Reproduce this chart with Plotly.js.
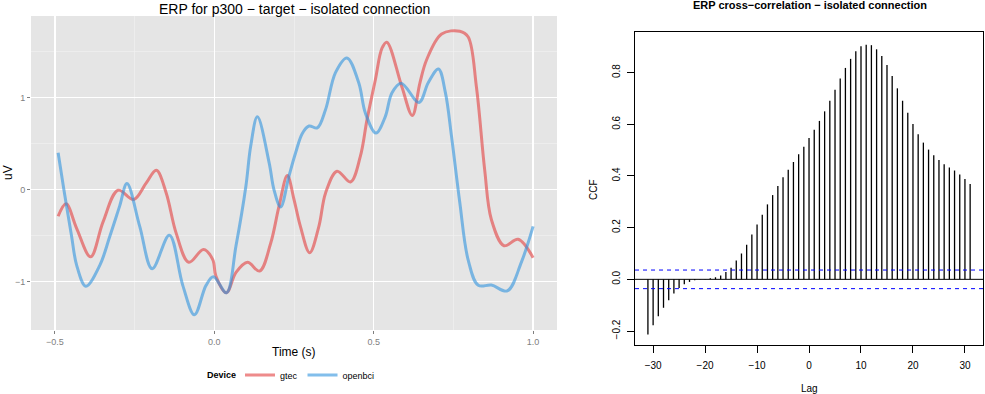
<!DOCTYPE html>
<html>
<head>
<meta charset="utf-8">
<script src="https://cdn.plot.ly/plotly-3.0.1.min.js"></script>
<style>
  body { margin: 0; background: #fff; }
  #chart { width: 985px; height: 394px; }
</style>
</head>
<body>
<div id="chart"></div>
<script>
// ERP traces (time in s, amplitude in uV)
var gtecTime = [-0.49, -0.465, -0.432, -0.388, -0.349, -0.302, -0.253, -0.214, -0.182, -0.151, -0.12, -0.08, -0.034,
	-0.005, 0.005, 0.038, 0.068, 0.104, 0.142, 0.177, 0.203, 0.229, 0.25, 0.27, 0.299, 0.328, 0.349, 0.385, 0.427,
	0.458, 0.479, 0.505, 0.526, 0.541, 0.588, 0.621, 0.645, 0.666, 0.713, 0.77, 0.796, 0.822, 0.848, 0.869, 0.909,
	0.953, 1.0];
var gtecValues = [-0.29, -0.155, -0.42, -0.73, -0.35, -0.007, -0.108, 0.07, 0.21, -0.036, -0.47, -0.79, -0.65,
	-0.76, -0.94, -1.12, -0.90, -0.79, -0.885, -0.58, -0.18, 0.152, -0.108, -0.40, -0.686, -0.40, -0.036, 0.20, 0.083,
	0.36, 0.76, 1.19, 1.535, 1.60, 1.12, 0.805, 1.16, 1.41, 1.69, 1.72, 1.66, 1.12, 0.217, -0.325, -0.61,
	-0.54, -0.74];

var openbciTime = [-0.49, -0.472, -0.448, -0.432, -0.403, -0.359, -0.328, -0.297, -0.274, -0.234, -0.195, -0.141,
	-0.099, -0.0625, -0.026, -0.003, 0.038, 0.068, 0.099, 0.114, 0.135, 0.172, 0.187, 0.208, 0.234, 0.255, 0.276,
	0.297, 0.323, 0.349, 0.38, 0.416, 0.453, 0.474, 0.507, 0.536, 0.557, 0.586, 0.642, 0.671, 0.703, 0.725, 0.744,
	0.77, 0.796, 0.828, 0.869, 0.919, 0.963, 1.0];
var openbciValues = [0.40, 0.0, -0.5, -0.82, -1.05, -0.82, -0.51, -0.18, 0.065, -0.40, -0.86, -0.495,
	-1.04, -1.36, -1.04, -0.946, -1.12, -0.61, 0.036, 0.47, 0.79, 0.29, 0.0, -0.19, 0.145, 0.40, 0.61,
	0.69, 0.67, 0.87, 1.27, 1.43, 1.16, 0.83, 0.614, 0.79, 1.05, 1.156, 0.946, 1.16, 1.31, 1.05, 0.58,
	-0.14, -0.76, -1.04, -1.037, -1.10, -0.79, -0.40];

// cross-correlation by lag
var lags = [];
for (var k = -31; k <= 31; k++) lags.push(k);
var ccfValues = [-0.213, -0.178, -0.143, -0.110, -0.081, -0.055, -0.034, -0.019, -0.010, -0.004, -0.001,
	0.001, 0.004, 0.008, 0.015, 0.028, 0.045, 0.073, 0.100, 0.134, 0.173, 0.212, 0.250, 0.290, 0.326,
	0.361, 0.395, 0.424, 0.454, 0.484, 0.513,
	0.547,
	0.579, 0.613, 0.650, 0.691, 0.734, 0.777, 0.818, 0.853, 0.882, 0.902, 0.908, 0.906, 0.890, 0.864,
	0.829, 0.787, 0.739, 0.691, 0.645, 0.601, 0.561, 0.529, 0.502, 0.480, 0.462, 0.445, 0.433, 0.421,
	0.406, 0.388, 0.369];
var ciBound = 0.036;

var font = "Liberation Sans, Arial, Helvetica, sans-serif";
var greyTick = "#7f7f7f";

var data = [
	{x: gtecTime, y: gtecValues, name: "gtec", type: "scatter", mode: "lines",
		line: {color: "rgba(227,61,61,0.6)", width: 3, shape: "spline", smoothing: 1},
		xaxis: "x", yaxis: "y"},
	{x: openbciTime, y: openbciValues, name: "openbci", type: "scatter", mode: "lines",
		line: {color: "rgba(47,147,222,0.6)", width: 3, shape: "spline", smoothing: 1},
		xaxis: "x", yaxis: "y"},
	{x: lags, y: ccfValues, type: "bar", width: 0.25, marker: {color: "#000", line: {width: 0}},
		showlegend: false, xaxis: "x2", yaxis: "y2", hoverinfo: "x+y"}
];

var layout = {
	width: 985, height: 394,
	margin: {l: 0, r: 0, t: 0, b: 0},
	paper_bgcolor: "#fff", plot_bgcolor: "#fff",
	font: {family: font, color: "#000"},
	xaxis: {
		domain: [0.0315, 0.5655], range: [-0.575, 1.075], anchor: "y",
		tickvals: [-0.5, 0, 0.5, 1], ticktext: ["\u22120.5", "0.0", "0.5", "1.0"],
		ticks: "outside", ticklen: 3, tickcolor: greyTick, tickfont: {size: 9, color: greyTick},
		showgrid: true, gridcolor: "#fff", gridwidth: 1.3, zeroline: false, showline: false,
		minor: {tickvals: [-0.25, 0.25, 0.75], showgrid: true, gridcolor: "#f2f2f2", gridwidth: 0.6, ticks: ""}
	},
	yaxis: {
		domain: [0.1624, 0.9594], range: [-1.525, 1.885], anchor: "x",
		tickvals: [-1, 0, 1], ticktext: ["\u22121", "0", "1"],
		ticks: "outside", ticklen: 3, tickcolor: greyTick, tickfont: {size: 9, color: greyTick},
		showgrid: true, gridcolor: "#fff", gridwidth: 1.3, zeroline: false, showline: false,
		minor: {tickvals: [-0.5, 0.5, 1.5], showgrid: true, gridcolor: "#f2f2f2", gridwidth: 0.6, ticks: ""}
	},
	xaxis2: {
		domain: [0.6447, 0.998], range: [-33.48, 33.48], anchor: "y2",
		tickvals: [-30, -20, -10, 0, 10, 20, 30], ticktext: ["\u221230", "\u221220", "\u221210", "0", "10", "20", "30"],
		ticks: "outside", ticklen: 7, tickcolor: "#000", tickfont: {size: 10, color: "#000"},
		ticklabelstandoff: 4,
		showgrid: false, zeroline: false, showline: true, linecolor: "#000", linewidth: 1, mirror: true
	},
	yaxis2: {
		domain: [0.1244, 0.9188], range: [-0.254, 0.957], anchor: "x2",
		tickvals: [-0.2, 0, 0.2, 0.4, 0.6, 0.8], ticktext: ["\u22120.2", "0.0", "0.2", "0.4", "0.6", "0.8"],
		tickangle: -90,
		ticks: "outside", ticklen: 7, tickcolor: "#000", tickfont: {size: 10, color: "#000"},
		ticklabelstandoff: 3,
		showgrid: false, zeroline: false, showline: true, linecolor: "#000", linewidth: 1, mirror: true
	},
	shapes: [
		// ggplot grey panel behind the gridlines
		{type: "rect", xref: "x domain", yref: "y domain", x0: 0, x1: 1, y0: 0, y1: 1,
			fillcolor: "#e5e5e5", line: {width: 0}, layer: "below"},
		{type: "line", xref: "x2 domain", yref: "y2", x0: 0, x1: 1, y0: 0, y1: 0,
			line: {color: "#000", width: 1}},
		{type: "line", xref: "x2 domain", yref: "y2", x0: 0, x1: 1, y0: ciBound, y1: ciBound,
			line: {color: "#0000ff", width: 1, dash: "4px,4px"}},
		{type: "line", xref: "x2 domain", yref: "y2", x0: 0, x1: 1, y0: -ciBound, y1: -ciBound,
			line: {color: "#0000ff", width: 1, dash: "4px,4px"}}
	],
	annotations: [
		{text: "ERP for p300 \u2212 target \u2212 isolated connection", xref: "paper", yref: "paper",
			x: 0.2985, y: 1 - 9 / 394, xanchor: "center", yanchor: "middle", showarrow: false,
			font: {size: 14, color: "#000"}},
		{text: "Time (s)", xref: "paper", yref: "paper", x: 0.2985, y: 1 - 352 / 394,
			xanchor: "center", yanchor: "middle", showarrow: false, font: {size: 12, color: "#000"}},
		{text: "uV", xref: "paper", yref: "paper", x: 8 / 985, y: 1 - 173 / 394, textangle: -90,
			xanchor: "center", yanchor: "middle", showarrow: false, font: {size: 12, color: "#000"}},
		// legend title, kept level with the legend entries
		{text: "<b>Device</b>", xref: "paper", yref: "paper", x: 238 / 985, y: 1 - 375 / 394,
			xanchor: "right", yanchor: "middle", showarrow: false, font: {size: 9, color: "#000"}},
		{text: "<b>ERP cross\u2212correlation \u2212 isolated connection</b>", xref: "paper", yref: "paper",
			x: 809.5 / 985, y: 1 - 5 / 394, xanchor: "center", yanchor: "middle", showarrow: false,
			font: {size: 11, color: "#000"}},
		{text: "CCF", xref: "paper", yref: "paper", x: 593 / 985, y: 1 - 190 / 394, textangle: -90,
			xanchor: "center", yanchor: "middle", showarrow: false, font: {size: 10, color: "#000"}},
		{text: "Lag", xref: "paper", yref: "paper", x: 809.5 / 985, y: 1 - 388 / 394,
			xanchor: "center", yanchor: "middle", showarrow: false, font: {size: 10, color: "#000"}}
	],
	legend: {
		orientation: "h", x: 240 / 985, xanchor: "left", y: 1 - 375 / 394, yanchor: "middle",
		font: {size: 9}, itemwidth: 30, bgcolor: "rgba(0,0,0,0)"
	},
	showlegend: true
};

Plotly.newPlot("chart", data, layout, {displayModeBar: false, staticPlot: true});
</script>
</body>
</html>
